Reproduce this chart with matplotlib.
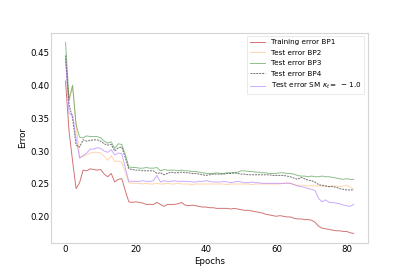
import matplotlib
matplotlib.use('Agg')
import matplotlib.pyplot as plt
import numpy as np

epochs = np.arange(83)

train_bp1 = [
    0.406, 0.330, 0.285, 0.243, 0.252, 0.271, 0.270, 0.273, 0.272, 0.271,
    0.272, 0.265, 0.261, 0.266, 0.253, 0.257, 0.258, 0.240, 0.223, 0.222,
    0.223, 0.222, 0.221, 0.219, 0.219, 0.219, 0.222, 0.219, 0.216, 0.219,
    0.219, 0.219, 0.220, 0.222, 0.218, 0.217, 0.218, 0.217, 0.216, 0.215,
    0.215, 0.214, 0.214, 0.213, 0.213, 0.213, 0.213, 0.212, 0.213, 0.212,
    0.211, 0.210, 0.210, 0.209, 0.208, 0.207, 0.206, 0.204, 0.203, 0.202,
    0.201, 0.202, 0.201, 0.200, 0.200, 0.198, 0.197, 0.197, 0.196, 0.196,
    0.195, 0.192, 0.186, 0.183, 0.182, 0.181, 0.180, 0.179, 0.179, 0.178,
    0.178, 0.176, 0.175]

test_bp2 = [
    0.440, 0.375, 0.398, 0.340, 0.291, 0.292, 0.294, 0.297, 0.298, 0.298,
    0.297, 0.292, 0.286, 0.293, 0.284, 0.285, 0.283, 0.268, 0.252, 0.251,
    0.251, 0.251, 0.250, 0.251, 0.250, 0.250, 0.251, 0.250, 0.250, 0.251,
    0.250, 0.250, 0.251, 0.250, 0.250, 0.250, 0.249, 0.250, 0.250, 0.250,
    0.250, 0.250, 0.250, 0.250, 0.250, 0.250, 0.249, 0.250, 0.250, 0.250,
    0.250, 0.250, 0.250, 0.249, 0.250, 0.250, 0.250, 0.250, 0.250, 0.250,
    0.250, 0.250, 0.251, 0.252, 0.251, 0.249, 0.248, 0.248, 0.248, 0.247,
    0.248, 0.247, 0.247, 0.247, 0.247, 0.246, 0.247, 0.247, 0.246, 0.247,
    0.248, 0.245, 0.242]

test_bp3 = [
    0.465, 0.378, 0.400, 0.340, 0.321, 0.320, 0.323, 0.322, 0.322, 0.322,
    0.320, 0.315, 0.312, 0.314, 0.304, 0.311, 0.310, 0.295, 0.276, 0.275,
    0.275, 0.274, 0.274, 0.275, 0.274, 0.274, 0.275, 0.270, 0.272, 0.271,
    0.271, 0.271, 0.270, 0.271, 0.270, 0.270, 0.269, 0.269, 0.268, 0.267,
    0.266, 0.266, 0.266, 0.267, 0.266, 0.266, 0.267, 0.267, 0.267, 0.268,
    0.270, 0.270, 0.269, 0.269, 0.268, 0.268, 0.267, 0.267, 0.266, 0.266,
    0.266, 0.267, 0.267, 0.266, 0.266, 0.265, 0.263, 0.262, 0.262, 0.261,
    0.262, 0.261, 0.261, 0.262, 0.261, 0.261, 0.260, 0.259, 0.258, 0.257,
    0.258, 0.257, 0.257]

test_bp4 = [
    0.445, 0.370, 0.350, 0.309, 0.306, 0.317, 0.315, 0.316, 0.317, 0.317,
    0.315, 0.311, 0.309, 0.310, 0.300, 0.305, 0.306, 0.290, 0.273, 0.272,
    0.271, 0.271, 0.270, 0.270, 0.270, 0.270, 0.266, 0.267, 0.264, 0.266,
    0.268, 0.267, 0.267, 0.268, 0.267, 0.267, 0.266, 0.266, 0.265, 0.264,
    0.263, 0.264, 0.265, 0.265, 0.265, 0.265, 0.266, 0.266, 0.267, 0.266,
    0.265, 0.265, 0.264, 0.264, 0.264, 0.264, 0.264, 0.264, 0.264, 0.263,
    0.263, 0.263, 0.263, 0.262, 0.261, 0.259, 0.257, 0.260, 0.258, 0.256,
    0.255, 0.253, 0.249, 0.248, 0.247, 0.246, 0.246, 0.245, 0.243, 0.242,
    0.241, 0.241, 0.241]

test_sm = [
    0.440, 0.357, 0.355, 0.320, 0.289, 0.293, 0.297, 0.303, 0.303, 0.305,
    0.304, 0.300, 0.298, 0.302, 0.294, 0.297, 0.296, 0.275, 0.254, 0.254,
    0.254, 0.254, 0.255, 0.254, 0.254, 0.255, 0.263, 0.253, 0.255, 0.254,
    0.254, 0.255, 0.254, 0.254, 0.254, 0.254, 0.253, 0.253, 0.254, 0.254,
    0.255, 0.254, 0.253, 0.253, 0.253, 0.254, 0.253, 0.252, 0.253, 0.254,
    0.253, 0.252, 0.252, 0.253, 0.252, 0.252, 0.251, 0.251, 0.251, 0.251,
    0.251, 0.251, 0.251, 0.251, 0.251, 0.249, 0.247, 0.246, 0.245, 0.243,
    0.242, 0.240, 0.228, 0.223, 0.226, 0.222, 0.222, 0.221, 0.220, 0.218,
    0.217, 0.216, 0.219]

fig, ax = plt.subplots(figsize=(4.09, 2.73), dpi=100)

ax.plot(epochs, train_bp1, color='#c0393b', alpha=0.7, lw=0.7,
        label='Training error BP1')
ax.plot(epochs, test_bp2, color='#ffb36b', alpha=0.55, lw=0.7,
        label='Test error BP2')
ax.plot(epochs, test_bp3, color='#2e8b2e', alpha=0.55, lw=0.7,
        label='Test error BP3')
ax.plot(epochs, test_bp4, color='#333333', alpha=0.7, lw=0.7, ls='--',
        dashes=(2, 1), label='Test error BP4')
ax.plot(epochs, test_sm, color='#a066ff', alpha=0.55, lw=0.7,
        label=r'Test error SM $\kappa_t = \,-\,1.0$')

ax.set_xlabel('Epochs', fontsize=6.2, labelpad=2)
ax.set_ylabel('Error', fontsize=6.2, labelpad=2)
ax.set_xticks([0, 20, 40, 60, 80])
ax.set_yticks([0.20, 0.25, 0.30, 0.35, 0.40, 0.45])
ax.tick_params(labelsize=6.2, length=0, pad=1.5)
for s in ax.spines.values():
    s.set_color('#d5d5d5')
    s.set_linewidth(0.8)

leg = ax.legend(loc='upper right', fontsize=5.25, labelspacing=0.6,
                fancybox=False, framealpha=1)
leg.get_frame().set_edgecolor('#e6e6e6')
leg.get_frame().set_linewidth(0.6)

plt.savefig('out.png', dpi=100)
